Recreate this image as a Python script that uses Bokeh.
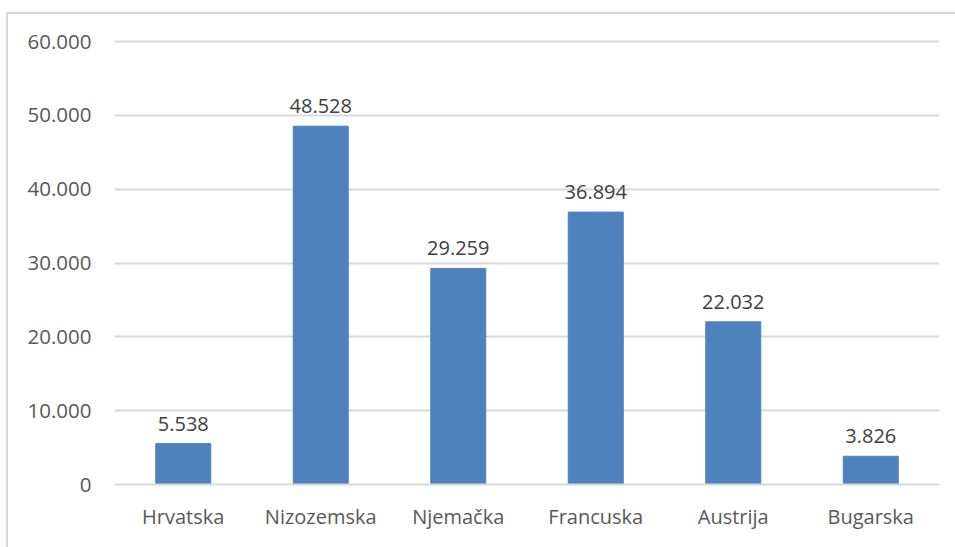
from bokeh.plotting import figure
from bokeh.models import ColumnDataSource, FixedTicker, Range1d, LabelSet
from bokeh.core.properties import value
from bokeh.embed import file_html
from bokeh.resources import INLINE

categories = ["Hrvatska", "Nizozemska", "Njemačka", "Francuska", "Austrija", "Bugarska"]
values = [5538, 48528, 29259, 36894, 22032, 3826]
y_ticks = [0, 10000, 20000, 30000, 40000, 50000, 60000]


def fmt(v):
    return f"{v:,}".replace(",", ".")


src = ColumnDataSource(dict(cat=categories, val=values, lbl=[fmt(v) for v in values]))

FONT = "Open Sans"
W, H = 955, 547
# frame spans canvas y 37..484; 60000 must sit at y=41
y_end = 60000 * (484 - 37) / (484 - 41)
p = figure(x_range=categories, y_range=Range1d(0, y_end), width=W, height=H,
           output_backend="svg", toolbar_location=None,
           min_border_left=114, min_border_right=16, min_border_top=37, min_border_bottom=63)
p.outline_line_color = None
p.background_fill_color = "white"
p.border_fill_color = None
# light chart-area border along the top and left edges, drawn behind the canvas
p.styles = {
    "background-color": "white",
    "background-image": "linear-gradient(#D9D9D9, #D9D9D9), linear-gradient(#D9D9D9, #D9D9D9)",
    "background-position": "6px 12px, 6px 12px",
    "background-size": "100% 2px, 2px 100%",
    "background-repeat": "no-repeat",
}

p.vbar(x="cat", top="val", width=0.4, source=src, color="#4F81BD")

labels = LabelSet(x="cat", y="val", text="lbl", source=src, text_align="center",
                  text_baseline="alphabetic", y_offset=13, text_font=value(FONT),
                  text_font_size="20px", text_color="#404040")
p.add_layout(labels)

p.yaxis.ticker = FixedTicker(ticks=y_ticks)
p.yaxis.major_label_overrides = {t: fmt(t) for t in y_ticks}
p.yaxis.axis_line_color = None
p.yaxis.major_tick_line_color = None
p.yaxis.minor_tick_line_color = None
p.yaxis.major_tick_out = 0
p.yaxis.major_tick_in = 0
p.yaxis.major_label_standoff = 23
p.yaxis.major_label_text_font = FONT
p.yaxis.major_label_text_font_size = "20.5px"
p.yaxis.major_label_text_color = "#595959"

p.xaxis.axis_line_color = "#D9D9D9"
p.xaxis.axis_line_width = 2
p.xaxis.major_tick_line_color = None
p.xaxis.minor_tick_line_color = None
p.xaxis.major_tick_out = 0
p.xaxis.major_tick_in = 0
p.xaxis.major_label_standoff = 18
p.xaxis.major_label_text_font = FONT
p.xaxis.major_label_text_font_size = "20px"
p.xaxis.major_label_text_color = "#595959"

p.xgrid.grid_line_color = None
p.ygrid.grid_line_color = "#D9D9D9"
p.ygrid.grid_line_width = 2

open("out.html", "w").write(file_html(p, INLINE))
